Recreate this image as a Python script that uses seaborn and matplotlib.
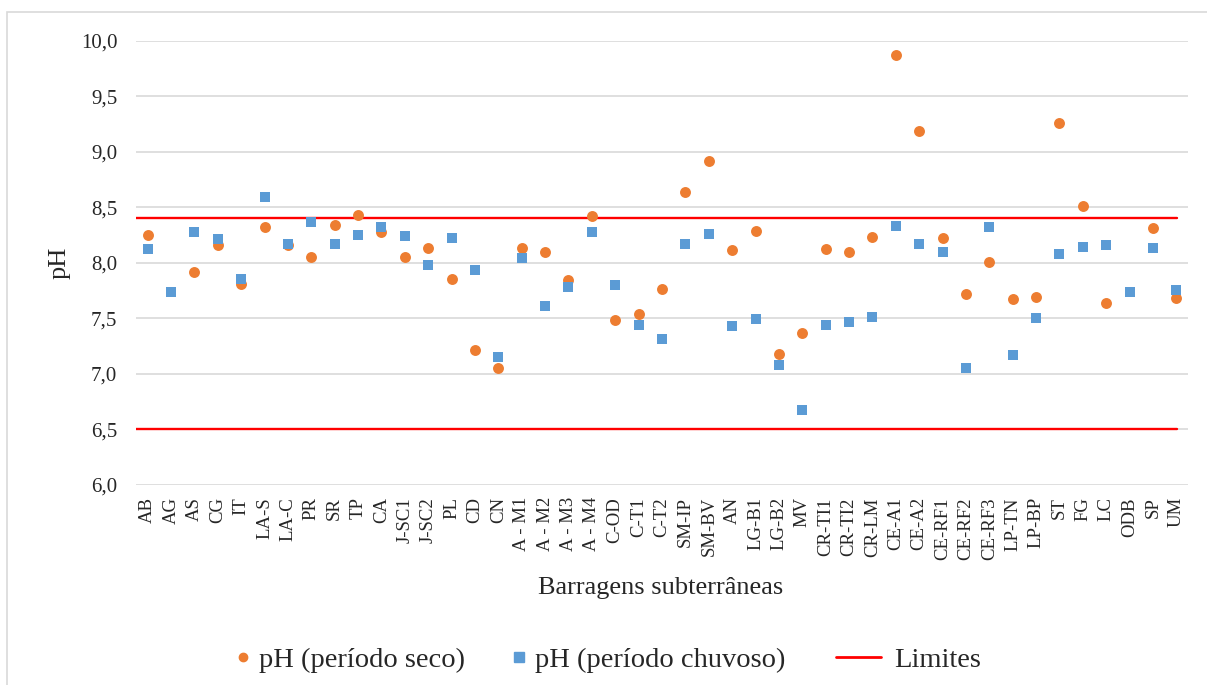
import numpy as np
import pandas as pd
import matplotlib
matplotlib.use("Agg")
import matplotlib.pyplot as plt
import seaborn as sns
from matplotlib.lines import Line2D
from matplotlib.patches import Rectangle

# barragens subterraneas
barragens = ["AB", "AG", "AS", "CG", "IT", "LA-S", "LA-C", "PR", "SR", "TP", "CA",
             "J-SC1", "J-SC2", "PL", "CD", "CN", "A - M1", "A - M2", "A - M3", "A - M4",
             "C-OD", "C-T1", "C-T2", "SM-IP", "SM-BV", "AN", "LG-B1", "LG-B2", "MV",
             "CR-TI1", "CR-TI2", "CR-LM", "CE-A1", "CE-A2", "CE-RF1", "CE-RF2", "CE-RF3",
             "LP-TN", "LP-BP", "ST", "FG", "LC", "ODB", "SP", "UM"]

ph_seco = [8.25, np.nan, 7.92, 8.16, 7.81, 8.32, 8.16, 8.05, 8.34, 8.43, 8.28,
           8.05, 8.13, 7.85, 7.21, 7.05, 8.13, 8.10, 7.84, 8.42,
           7.48, 7.54, 7.76, 8.64, 8.92, 8.11, 8.29, 7.18, 7.37,
           8.12, 8.10, 8.23, 9.87, 9.19, 8.22, 7.72, 8.01,
           7.67, 7.69, 9.26, 8.51, 7.64, np.nan, 8.31, 7.68]

ph_chuvoso = [8.12, 7.74, 8.28, 8.21, 7.85, 8.59, 8.17, 8.37, 8.17, 8.25, 8.32,
              8.24, 7.98, 8.22, 7.93, 7.15, 8.04, 7.61, 7.78, 8.28,
              7.80, 7.44, 7.31, 8.17, 8.26, 7.43, 7.49, 7.08, 6.67,
              7.44, 7.47, 7.51, 8.33, 8.17, 8.10, 7.05, 8.32,
              7.17, 7.50, 8.08, 8.14, 8.16, 7.74, 8.13, 7.75]

limites = [6.5, 8.4]

df = pd.DataFrame({"barragem": barragens, "seco": ph_seco, "chuvoso": ph_chuvoso})

sns.set_style("white")
plt.rcParams['font.family'] = ['Liberation Serif', 'DejaVu Serif']

orange = "#ED7D31"
blue = "#5B9BD5"
red = "#FF0000"
grid = "#D9D9D9"

fig = plt.figure(figsize=(12.07, 6.85), dpi=100)
ax = fig.add_axes([136/1207, 1 - 484.7/685, (1188-136)/1207, (484.7-40.7)/685])

# outer chart border (only top/left visible in the crop)
fig.patches.append(Rectangle((7/1207, -0.1), 1.2, 1 - 12/685 + 0.1, transform=fig.transFigure,
                             fill=False, edgecolor=grid, lw=1.2))

# blue first so the category order is complete, orange underneath
sns.scatterplot(data=df, x="barragem", y="chuvoso", marker="s", s=62, color=blue,
                linewidth=0, ax=ax, zorder=3)
sns.scatterplot(data=df, x="barragem", y="seco", marker="o", s=62, color=orange,
                linewidth=0, ax=ax, zorder=2)

for lim in limites:
    ax.axhline(lim, xmin=0.0, xmax=0.99, color=red, lw=1.7, zorder=1.5)

ax.set_xlim(-0.5, len(barragens) - 0.5)
ax.set_ylim(6.0, 10.0)
ax.set_yticks(np.arange(6.0, 10.01, 0.5))
ax.set_yticklabels([f"{v:.1f}".replace(".", ",") for v in np.arange(6.0, 10.01, 0.5)], fontsize=15)
ax.set_xticks(range(len(barragens)))
ax.set_xticklabels(barragens, rotation=90, fontsize=13.5, va="top")
ax.tick_params(axis="y", length=0, pad=13.5)
ax.tick_params(axis="x", length=0, pad=9)

ax.yaxis.grid(True, color=grid, lw=1.2)
ax.set_axisbelow(True)
for sp in ax.spines.values():
    sp.set_visible(False)

ax.set_xlabel("")
ax.set_ylabel("")
fig.text(60/1207, 1 - 263/685, "pH", rotation=90, fontsize=19, ha="center", va="center")
fig.text(661/1207, 1 - 588/685, "Barragens subterrâneas", fontsize=19, ha="center", va="center")

# legend: markers and line in two groups so the handle lengths can differ
mk_handles = [Line2D([], [], marker="o", color=orange, ls="", markersize=6),
              Line2D([], [], marker="s", color=blue, ls="", markersize=6.5)]
leg1 = fig.legend(mk_handles, ["pH (período seco)", "pH (período chuvoso)"],
                  loc="center", bbox_to_anchor=(510/1207, 1 - 660/685), ncol=2, frameon=False,
                  fontsize=20.5, handlelength=0.6, handletextpad=0.26, columnspacing=1.6,
                  borderpad=0, borderaxespad=0)
leg2 = fig.legend([Line2D([], [], color=red, lw=2)], ["Limites"],
                  loc="center", bbox_to_anchor=(908.5/1207, 1 - 660/685), frameon=False,
                  fontsize=20.5, handlelength=1.58, handletextpad=0.45,
                  borderpad=0, borderaxespad=0)

fig.savefig("out.png", dpi=100)
